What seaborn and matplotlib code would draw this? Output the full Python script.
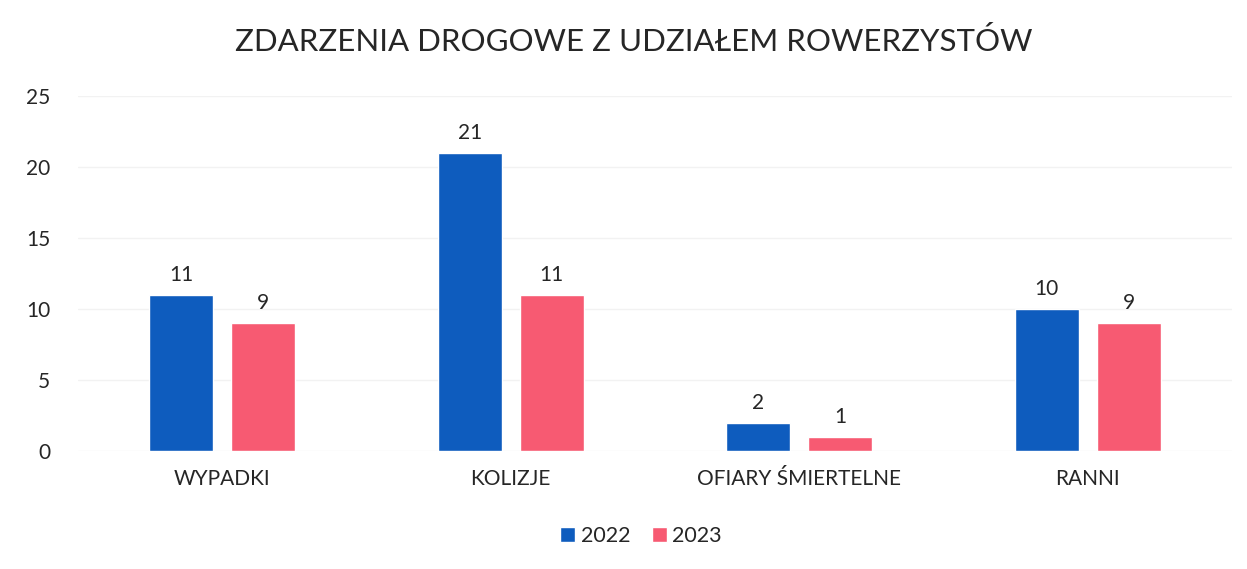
import pandas as pd
import matplotlib.pyplot as plt
import seaborn as sns

categories = ["WYPADKI", "KOLIZJE", "OFIARY ŚMIERTELNE", "RANNI"]
values_2022 = [11, 21, 2, 10]
values_2023 = [9, 11, 1, 9]
years = ["2022", "2023"]
colors = ["#0E5CBE", "#F75A72"]

df = pd.DataFrame({
    "kategoria": categories * 2,
    "rok": [years[0]] * 4 + [years[1]] * 4,
    "liczba": values_2022 + values_2023,
})

sns.set_theme(style="white")
plt.rcParams['font.family'] = ['Lato', 'DejaVu Sans']

fig = plt.figure(figsize=(12.47, 5.69), dpi=100)
ax = fig.add_axes([0.0626, 0.2074, 0.9254, 0.6239])

sns.barplot(data=df, x="kategoria", y="liczba", hue="rok", palette=colors,
            saturation=1, width=0.568, gap=0.218, ax=ax, legend=True)

for cont in ax.containers:
    ax.bar_label(cont, padding=7, fontsize=15, color="#262626")

ax.set_ylim(0, 25)
ax.set_xlim(-0.5, 3.5)
ax.set_yticks(range(0, 26, 5))
ax.yaxis.grid(True, color="#f2f2f2", linewidth=1)
ax.set_axisbelow(True)
sns.despine(ax=ax, left=True, bottom=True)
ax.tick_params(axis="y", length=0, pad=20, labelsize=15, labelcolor="#262626")
ax.tick_params(axis="x", length=0, pad=13, labelsize=15, labelcolor="#262626")
ax.set_xlabel("")
ax.set_ylabel("")

fig.suptitle("ZDARZENIA DROGOWE Z UDZIAŁEM ROWERZYSTÓW", x=0.508, y=0.952,
             fontsize=22.5, color="#262626")

ax.legend(loc="center", bbox_to_anchor=(0.488, -0.24), ncol=2, frameon=False,
          fontsize=15.5, handlelength=0.7, handleheight=0.7, handletextpad=0.25,
          columnspacing=1.0)
for t in ax.get_legend().get_texts():
    t.set_color("#262626")

fig.savefig("out.png", dpi=100, facecolor="white")
